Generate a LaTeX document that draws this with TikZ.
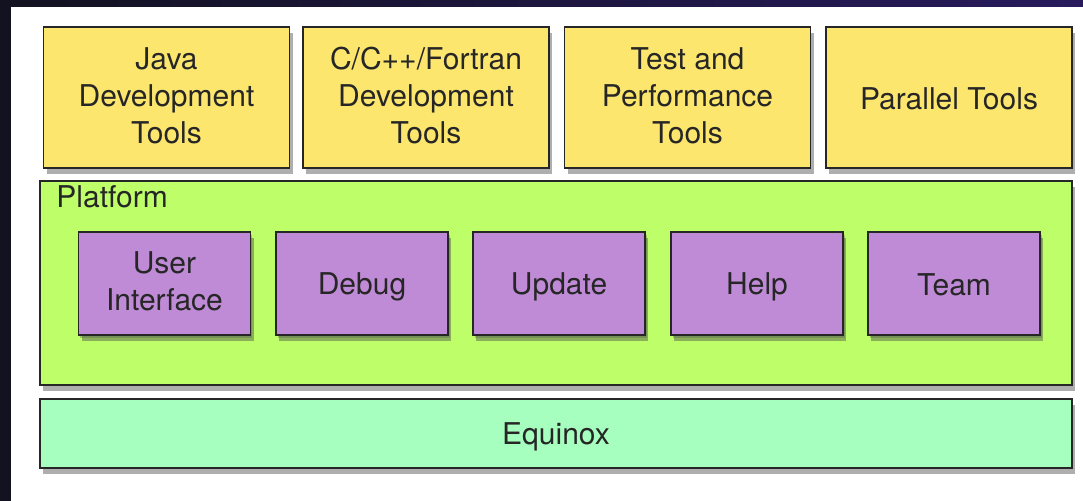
\documentclass[tikz,border=0pt]{standalone}
\usepackage{fontspec}
\setmainfont{TeX Gyre Heros}
\usepackage{tikz}
\usetikzlibrary{shadows}

\definecolor{toolyellow}{RGB}{252,230,110}
\definecolor{platgreen}{RGB}{190,255,105}
\definecolor{partpurple}{RGB}{192,139,214}
\definecolor{equigreen}{RGB}{166,255,190}
\definecolor{navyleft}{RGB}{18,18,32}
\definecolor{navyright}{RGB}{40,26,92}

\newcommand\labelstrut{\rule[-2pt]{0pt}{16pt}}

\tikzset{
    layer/.style={draw=black!85, line width=0.8pt, rectangle, inner sep=0pt,
        align=center, text=black!85,
        font=\fontsize{15}{18.5}\selectfont,
        execute at begin node=\labelstrut, execute at end node=\labelstrut,
        drop shadow={shadow xshift=1.5pt, shadow yshift=-3pt, opacity=0.45, fill=black!70}},
    toolbox/.style={layer, fill=toolyellow, minimum width=123pt, minimum height=70.5pt},
    partbox/.style={layer, fill=partpurple, minimum width=86pt, minimum height=51.5pt,
        drop shadow={shadow xshift=0.8pt, shadow yshift=-1.5pt, opacity=0.3, fill=black!70}},
    basebox/.style={layer, minimum width=516pt}
}

\begin{document}
\begin{tikzpicture}[x=0.5pt, y=-0.5pt]
            % frame
            \fill[white] (0,0) rectangle (1083,501);
            \shade[left color=navyleft, right color=navyright] (0,0) rectangle (1083,7);
            \fill[navyleft] (0,0) rectangle (11,501);
            \useasboundingbox (0,0) rectangle (1083,501);

            % tools on top
            \node[toolbox] (java)     at (166.5,97.5) {Java\\Development\\Tools};
            \node[toolbox] (cdt)      at (426,97.5)   {C/C++/Fortran\\Development\\Tools};
            \node[toolbox] (tptp)     at (687.5,97.5) {Test and\\Performance\\Tools};
            \node[toolbox] (parallel) at (949,97.5)   {Parallel Tools};

            % platform
            \node[basebox, fill=platgreen, minimum height=102pt] (platform) at (556,283) {};
            \node[anchor=base west, inner sep=0pt, text=black!85,
                font=\fontsize{15}{18.5}\selectfont] (platlabel) at (56,208) {Platform};

            \node[partbox] (ui)     at (164.5,283.5) {User\\Interface};
            \node[partbox] (debug)  at (362,283.5)   {Debug};
            \node[partbox] (update) at (559,283.5)   {Update};
            \node[partbox] (help)   at (757,283.5)   {Help};
            \node[partbox] (team)   at (954,283.5)   {Team};

            % runtime
            \node[basebox, fill=equigreen, minimum height=34.5pt] (equinox) at (556,433.5) {Equinox};
        \end{tikzpicture}
\end{document}
